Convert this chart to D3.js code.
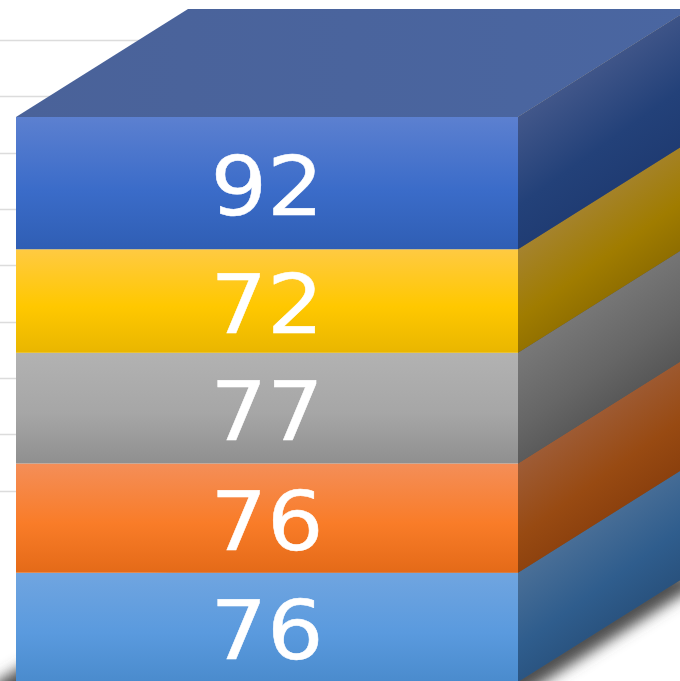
<!DOCTYPE html>
<html>
<head>
<meta charset="utf-8">
<script src="https://cdn.jsdelivr.net/npm/d3@7"></script>
<style>
html,body{margin:0;padding:0;background:#fff;overflow:hidden}
svg{display:block;filter:blur(0.45px)}
</style>
</head>
<body>
<svg id="chart" width="680" height="681"></svg>
<script>
const seriesNames = ["s1", "s2", "s3", "s4", "s5"];
const seriesValues = [76, 76, 77, 72, 92];
const gridValues = [80, 120, 160, 200, 240, 280, 320, 360, 400];
const frontStops = [
  ["#70a5e0", "#5a9ade", "#4a8bcd"],
  ["#f48e58", "#f97c28", "#e46a18"],
  ["#b2b2b2", "#a6a6a6", "#8f8f8f"],
  ["#ffca42", "#ffc800", "#e9b600"],
  ["#5c80d0", "#3b6cc9", "#2f5eb4"]
];
const sideStops = [
  ["#4a6f97", "#2f5d8d", "#29527e"],
  ["#9e5c36", "#984a12", "#8b400d"],
  ["#787878", "#666666", "#575757"],
  ["#a5832e", "#a07c00", "#8f6e00"],
  ["#42578a", "#234179", "#1f3b72"]
];
const topColors = ["#4a6299", "#4a66a1"];

const svg = d3.select("#chart");
const defs = svg.append("defs");

const row = {};
seriesNames.forEach((n, i) => row[n] = seriesValues[i]);
const stacked = d3.stack().keys(seriesNames)([row]);

const y = d3.scaleLinear().domain([0, d3.sum(seriesValues)]).range([682, 117]);
const x = d3.scaleLinear().domain([0, 1]).range([16, 518]);
const gridY = d3.scaleLinear().domain([0, 400]).range([603.5, 40]);
const depth = {dx: 172, dy: -108};
const line = d3.line();

// gradients
frontStops.forEach((s, i) => {
  const g = defs.append("linearGradient").attr("id", "front" + i)
    .attr("x1", 0).attr("y1", 0).attr("x2", 0).attr("y2", 1);
  [0, 0.55, 1].forEach((o, k) => g.append("stop").attr("offset", o).attr("stop-color", s[k]));
});
sideStops.forEach((s, i) => {
  const top = y(stacked[i][0][1]), bot = y(stacked[i][0][0]);
  const L = (bot - top) * 0.92;
  const g = defs.append("linearGradient").attr("id", "side" + i)
    .attr("gradientUnits", "userSpaceOnUse")
    .attr("x1", x(1)).attr("y1", top)
    .attr("x2", x(1) + 0.58 * L).attr("y2", top + 0.81 * L);
  [0, 0.6, 1].forEach((o, k) => g.append("stop").attr("offset", o).attr("stop-color", s[k]));
});
const tg = defs.append("linearGradient").attr("id", "topFace").attr("x1", 0).attr("x2", 1).attr("y1", 0).attr("y2", 0);
topColors.forEach((c, k) => tg.append("stop").attr("offset", k).attr("stop-color", c));
defs.append("filter").attr("id", "blur")
  .attr("filterUnits", "userSpaceOnUse")
  .attr("x", -60).attr("y", 500).attr("width", 820).attr("height", 260)
  .append("feGaussianBlur").attr("stdDeviation", 7);

// gridlines on the back wall
svg.append("g").selectAll("line").data(gridValues).join("line")
  .attr("x1", 0).attr("x2", x(1))
  .attr("y1", d => Math.round(gridY(d)) + 0.5).attr("y2", d => Math.round(gridY(d)) + 0.5)
  .attr("stroke", "#dcdcdc").attr("stroke-width", 1.4);

// soft shadow under the box
const y0 = y(0);
const sx = depth.dx + 20, sy = sx * depth.dy / depth.dx;
const shadow = [
  [x(0) - 22, y0 + 2],
  [x(0) + depth.dx - 22, y0 + depth.dy + 2],
  [x(1) + sx, y0 + depth.dy],
  [x(1) + sx, y0 + sy + 16],
  [x(1), y0 + 16],
  [x(0) - 22, y0 + 16]
];
svg.append("path").attr("d", line(shadow) + "Z")
  .attr("fill", "#505050").attr("filter", "url(#blur)");

// top face
const yT = y(d3.sum(seriesValues));
svg.append("path")
  .attr("d", line([[x(0), yT], [x(0) + depth.dx, yT + depth.dy], [x(1) + depth.dx, yT + depth.dy], [x(1), yT]]) + "Z")
  .attr("fill", "url(#topFace)");

// solid backing so the seams between faces stay closed
svg.append("path")
  .attr("d", line([[x(1), yT], [x(1) + depth.dx, yT + depth.dy], [x(1) + depth.dx, y0 + depth.dy], [x(1), y0]]) + "Z")
  .attr("fill", "#555");

// side faces and front faces
const seg = svg.append("g").selectAll("g").data(stacked).join("g");
seg.append("path")
  .attr("d", s => line([
    [x(1), y(s[0][1])],
    [x(1) + depth.dx, y(s[0][1]) + depth.dy],
    [x(1) + depth.dx, y(s[0][0]) + depth.dy],
    [x(1), y(s[0][0])]
  ]) + "Z")
  .attr("fill", (s, i) => `url(#side${i})`);
seg.append("rect")
  .attr("x", x(0)).attr("width", x(1) - x(0))
  .attr("y", s => y(s[0][1])).attr("height", s => y(s[0][0]) - y(s[0][1]))
  .attr("fill", (s, i) => `url(#front${i})`);

// labels
seg.append("text")
  .attr("transform", s => `translate(${(x(0) + x(1)) / 2},${(y(s[0][0]) + y(s[0][1])) / 2 + 31.5}) scale(1.085,1)`)
  .attr("text-anchor", "middle")
  .attr("font-family", "DejaVu Sans")
  .attr("font-size", 82)
  .attr("fill", "#fff")
  .attr("stroke", "#fff")
  .attr("stroke-width", 0.5)
  .text(s => s[0].data[s.key]);
</script>
</body>
</html>
